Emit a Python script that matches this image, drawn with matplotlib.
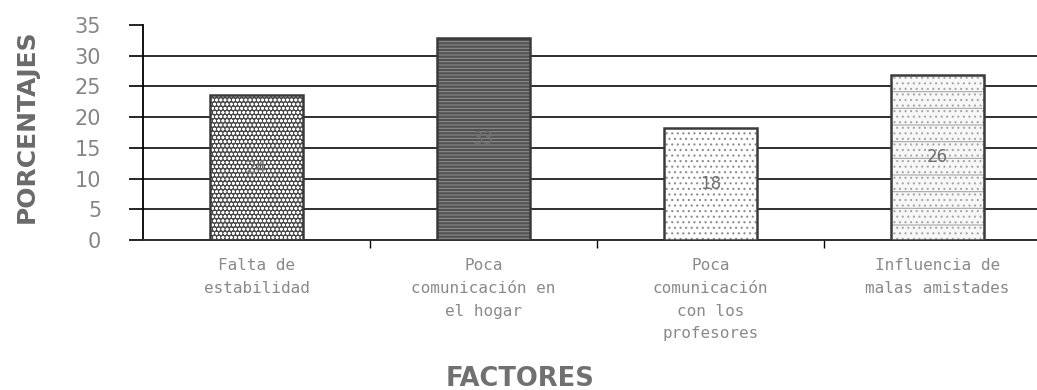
import matplotlib.pyplot as plt

# datos del grafico
factores = ['Falta de\nestabilidad', 'Poca\ncomunicación en\nel hogar',
            'Poca\ncomunicación\ncon los\nprofesores', 'Influencia de\nmalas amistades']
porcentajes = [23.6, 32.9, 18.2, 26.9]
etiquetas = ['24', '33', '18', '26']
y_ticks = [0, 5, 10, 15, 20, 25, 30, 35]

# estilos de cada barra (relleno, trama, color de trama)
rellenos = ['#4a4a4a', '#525252', '#ffffff', '#f7f7f7']
tramas = ['oooo', '-----', '...', '-...']
color_trama = ['#ffffff', '#8c8c8c', '#8c8c8c', '#a8a8a8']

plt.rcParams['hatch.linewidth'] = 0.8

fig = plt.figure(figsize=(10.37, 3.9), dpi=100)
ax = fig.add_axes([143 / 1037, 1 - 240 / 390, 908 / 1037, 215 / 390])

x = list(range(len(factores)))
for i in x:
    ax.bar(x[i], porcentajes[i], width=0.41, color=rellenos[i], hatch=tramas[i],
           edgecolor=color_trama[i], linewidth=0, zorder=3)
ax.bar(x, porcentajes, width=0.41, fill=False, edgecolor='#3a3a3a', linewidth=1.8, zorder=4)

for i in x:
    ax.text(x[i], porcentajes[i] / 2, etiquetas[i], ha='center', va='center',
            fontsize=12, color='#707070', zorder=5)

ax.set_xlim(-0.5, 3.5)
ax.set_ylim(0, 35)
ax.set_yticks(y_ticks)
ax.tick_params(axis='y', length=10, width=1.2, pad=20, labelsize=15, labelcolor='#858585')

ax.set_xticks(x)
ax.set_xticklabels(factores, fontsize=11.5, family='DejaVu Sans Mono', color='#8a8a8a',
                   linespacing=1.65)
ax.tick_params(axis='x', length=0, pad=13)
ax.set_xticks([0.5, 1.5, 2.5], minor=True)
ax.tick_params(axis='x', which='minor', length=6, width=1)

ax.yaxis.grid(True, color='#2e2e2e', linewidth=1.4, zorder=1)
ax.get_ygridlines()[-1].set_visible(False)
ax.set_axisbelow(True)
for s in ['top', 'right']:
    ax.spines[s].set_visible(False)
ax.spines['left'].set_linewidth(1.3)
ax.spines['bottom'].set_linewidth(1.4)
ax.spines['bottom'].set_color('#2e2e2e')

fig.text(27 / 1037, 1 - 126 / 390, 'PORCENTAJES', rotation=90, ha='center', va='center',
         fontsize=18, fontweight='bold', color='#6a6a6a')
fig.text(520 / 1037, 1 - 379 / 390, 'FACTORES', ha='center', va='center',
         fontsize=18.5, fontweight='bold', color='#707070')

fig.savefig('out.png', dpi=100)
